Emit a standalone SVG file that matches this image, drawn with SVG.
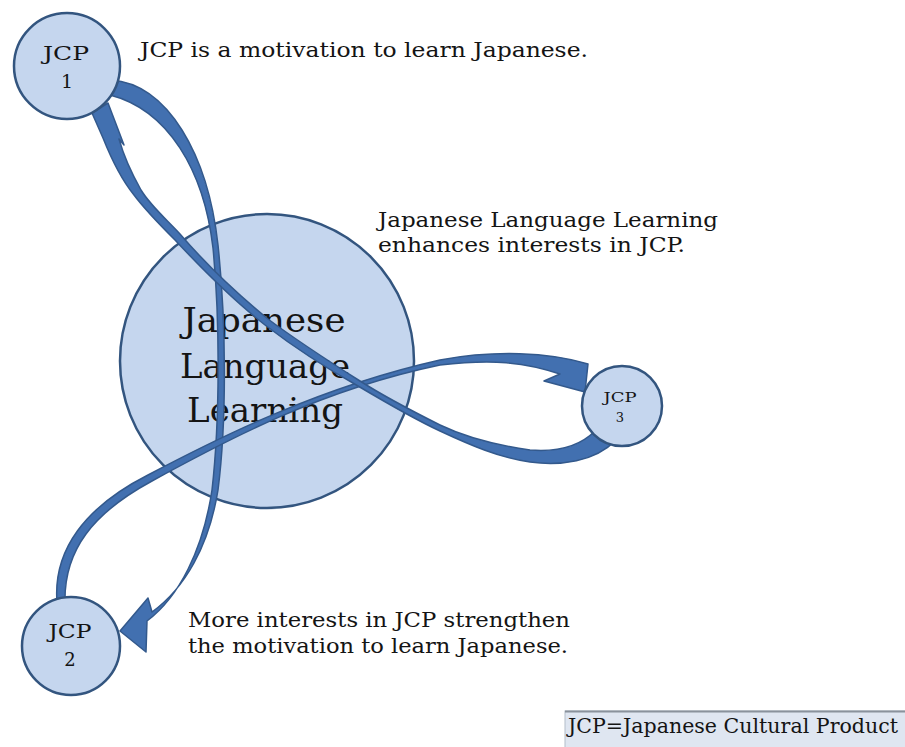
<svg xmlns="http://www.w3.org/2000/svg" width="905" height="747" viewBox="0 0 905 747">
  <style>
    .node { fill: #c5d6ee; stroke: #33557f; stroke-width: 2.5; }
    .label { font-family: "DejaVu Serif", "Liberation Serif", serif; fill: #141414; }
    .arrow { fill: #4270b0; stroke: #33598c; stroke-width: 1.5; stroke-linejoin: round; }
    .note { font-family: "DejaVu Serif", "Liberation Serif", serif; font-size: 21px; fill: #141414; }
  </style>
  <rect width="905" height="747" fill="#ffffff"/>

  <!-- central node -->
  <g id="node-jll">
    <circle class="node" cx="267" cy="361" r="147"/>
    <g class="label" font-size="34" text-anchor="middle">
      <text x="264" y="332" textLength="163" lengthAdjust="spacingAndGlyphs">Japanese</text>
      <text x="265" y="378" textLength="170" lengthAdjust="spacingAndGlyphs">Language</text>
      <text x="265" y="422" textLength="156" lengthAdjust="spacingAndGlyphs">Learning</text>
    </g>
  </g>

  <!-- curved block arrows -->
  <g id="connectors">
    <!-- JCP 1 to JCP 2 -->
    <path class="arrow" d="M 111,80 C 168,84 208,155 218,245 C 226,320 227,420 218,490 C 209,546 185,588 152,612 L 148,598 L 120,631 L 146,652 L 147,621 C 179,597 203,550 212,490 C 220,420 220,320 213,248 C 204,170 168,110 110,95 Z"/>
    <!-- JCP 2 to JCP 3 -->
    <path class="arrow" d="M 57,602 C 53,550 85,507 148,475 C 220,437 320,387 440,360 C 495,350 548,352 588,364 L 585,392 L 544,381 L 560,374 C 525,362 492,359 440,365 C 320,390 225,441 152,481 C 93,513 64,550 65,602 Z"/>
    <!-- JCP 3 to JCP 1 -->
    <path class="arrow" d="M 595,431 C 578,448 555,452 530,450 C 495,445 465,437 440,425 C 410,410 385,397 360,381 C 330,362 300,343 268,319 C 235,292 205,263 180,234 C 165,218 150,205 141,190 C 132,174 124,157 119,139 L 124,145 L 108,103 L 92,113 L 103,138 C 111,158 121,179 134,195 C 146,211 160,225 175,240 C 203,270 233,300 265,325 C 295,348 326,368 358,386 C 385,402 412,418 440,431 C 470,445 500,458 530,462 C 560,466 595,462 616,440 Z"/>
  </g>

  <g id="node-jcp1">
    <circle class="node" cx="67" cy="66" r="53"/>
    <g class="label" font-size="19" text-anchor="middle">
      <text x="66" y="60" textLength="46" lengthAdjust="spacingAndGlyphs">JCP</text>
      <text x="67" y="88">1</text>
    </g>
  </g>

  <g id="node-jcp2">
    <circle class="node" cx="71" cy="646" r="49"/>
    <g class="label" font-size="18" text-anchor="middle">
      <text x="70" y="638" textLength="43" lengthAdjust="spacingAndGlyphs">JCP</text>
      <text x="70" y="666">2</text>
    </g>
  </g>

  <g id="node-jcp3">
    <circle class="node" cx="622" cy="406" r="40"/>
    <g class="label" font-size="13" text-anchor="middle">
      <text x="620" y="402" textLength="33" lengthAdjust="spacingAndGlyphs">JCP</text>
      <text x="620" y="422">3</text>
    </g>
  </g>

  <!-- explanatory notes -->
  <g id="notes">
    <text class="note" x="140" y="57" textLength="448" lengthAdjust="spacingAndGlyphs">JCP is a motivation to learn Japanese.</text>
    <text class="note" x="378" y="227" textLength="340" lengthAdjust="spacingAndGlyphs">Japanese Language Learning</text>
    <text class="note" x="378" y="252" textLength="307" lengthAdjust="spacingAndGlyphs">enhances interests in JCP.</text>
    <text class="note" x="188" y="627" textLength="382" lengthAdjust="spacingAndGlyphs">More interests in JCP strengthen</text>
    <text class="note" x="188" y="653" textLength="380" lengthAdjust="spacingAndGlyphs">the motivation to learn Japanese.</text>
  </g>

  <!-- legend -->
  <g id="legend">
    <rect x="565" y="711" width="345" height="40" fill="#dfe6f1" stroke="#b4bdc9" stroke-width="1"/>
    <line x1="565" y1="711.5" x2="905" y2="711.5" stroke="#8a929c" stroke-width="2"/>
    <text class="note" x="568" y="733" textLength="330" lengthAdjust="spacingAndGlyphs">JCP=Japanese Cultural Product</text>
  </g>
</svg>
